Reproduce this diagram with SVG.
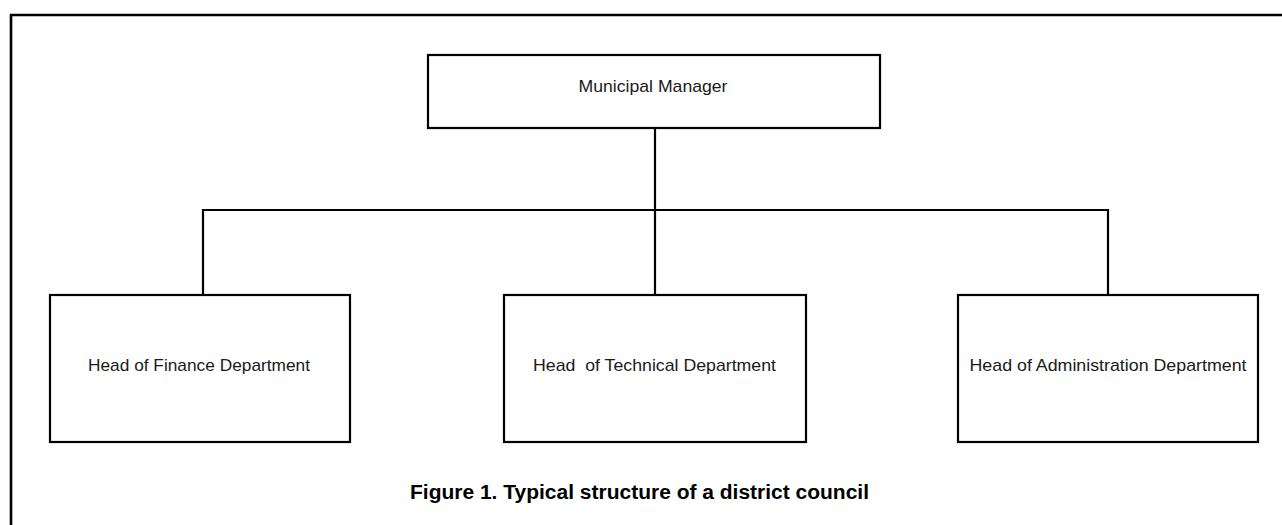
<svg xmlns="http://www.w3.org/2000/svg" width="1282" height="525" viewBox="0 0 1282 525">
<style>
.box{fill:#fff;stroke:#000;stroke-width:2.2}
.lbl{font-family:"Liberation Sans",Arial,sans-serif;font-size:17px;fill:#1a1a1a;text-anchor:middle;white-space:pre}
.conn{fill:none;stroke:#000;stroke-width:2.2}
.title{font-family:"Liberation Sans",Arial,sans-serif;font-size:20px;font-weight:bold;fill:#000;text-anchor:middle}
</style>
<rect width="1282" height="525" fill="#fff"/>
<path d="M11,525 V15 H1282" fill="none" stroke="#000" stroke-width="2.6"/>
<g id="connectors">
<path class="conn" d="M655,128 V295"/>
<path class="conn" d="M203,295 V210 H1108 V295"/>
</g>
<g id="municipal-manager">
<rect class="box" x="428" y="55" width="452" height="73"/>
<text class="lbl" x="653" y="92" textLength="149" lengthAdjust="spacingAndGlyphs">Municipal Manager</text>
</g>
<g id="finance">
<rect class="box" x="50" y="295" width="300" height="147"/>
<text class="lbl" x="199" y="371" textLength="222" lengthAdjust="spacingAndGlyphs">Head of Finance Department</text>
</g>
<g id="technical">
<rect class="box" x="504" y="295" width="302" height="147"/>
<text class="lbl" x="654.5" y="371" textLength="243" lengthAdjust="spacingAndGlyphs" xml:space="preserve">Head  of Technical Department</text>
</g>
<g id="administration">
<rect class="box" x="958" y="295" width="300" height="147"/>
<text class="lbl" x="1108" y="371" textLength="277" lengthAdjust="spacingAndGlyphs">Head of Administration Department</text>
</g>
<text class="title" x="639.5" y="499" textLength="459" lengthAdjust="spacingAndGlyphs">Figure 1. Typical structure of a district council</text>
</svg>
